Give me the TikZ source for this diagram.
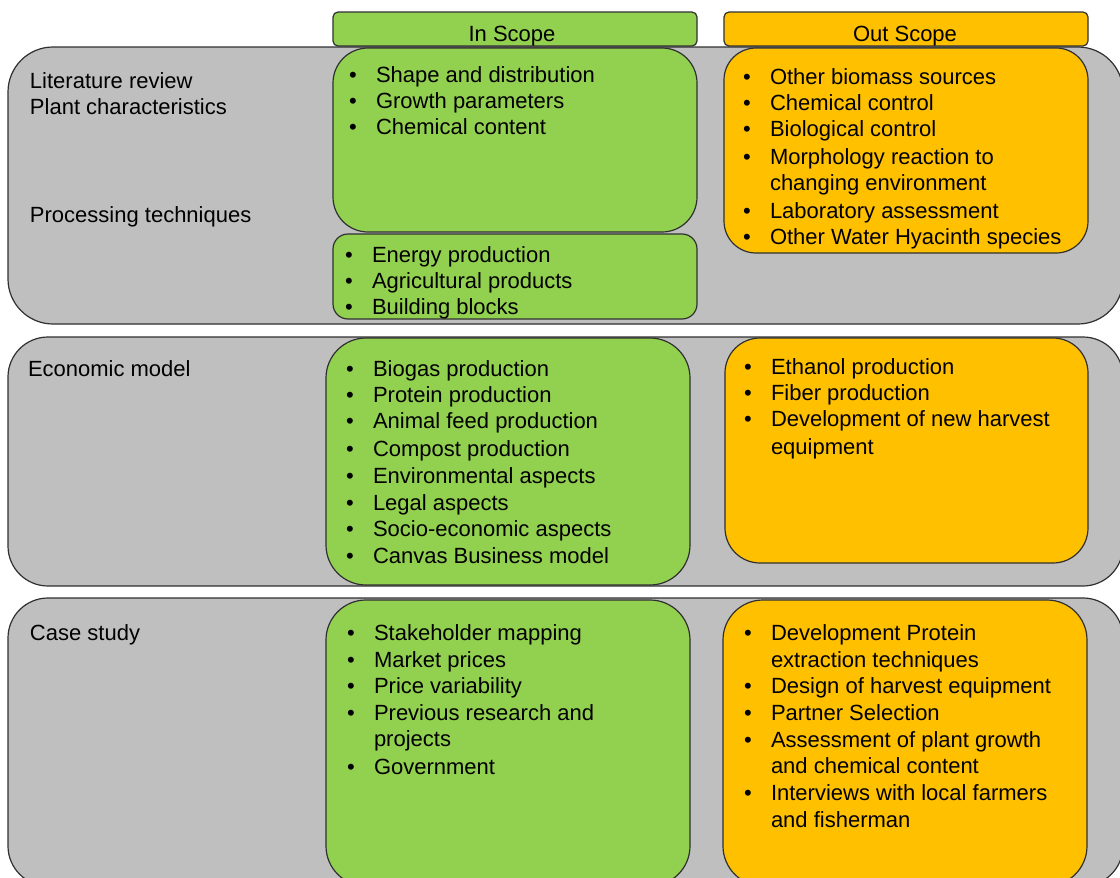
\documentclass[tikz,border=0pt]{standalone}
\usepackage{fontspec}
\setmainfont{Liberation Sans}
\definecolor{scopegreen}{HTML}{92D050}
\definecolor{scopeorange}{HTML}{FFC000}
\definecolor{panelgray}{HTML}{BFBFBF}
\definecolor{edgegray}{HTML}{303030}
\tikzset{
  boxbase/.style={draw=edgegray, line width=1.2pt, inner sep=0pt, outer sep=0pt},
  panelbox/.style={boxbase, fill=panelgray},
  greenbox/.style={boxbase, fill=scopegreen},
  orangebox/.style={boxbase, fill=scopeorange},
  itemtxt/.style={inner sep=0pt, outer sep=0pt, font=\fontsize{22}{26}\selectfont, text=black},
}
% name, style, x1, y1, x2, y2, radius
\newcommand\rbox[7]{%
  \pgfmathsetmacro\rbW{#5-#3}%
  \pgfmathsetmacro\rbH{#6-#4}%
  \pgfmathsetmacro\rbX{(#3+#5)/2}%
  \pgfmathsetmacro\rbY{(#4+#6)/2}%
  \node[#2, rounded corners=#7pt, minimum width=\rbW pt, minimum height=\rbH pt]
    (#1) at (\rbX,\rbY) {};}
% name, baseline y, text x, text
\newcommand\bitem[4]{%
  \pgfmathsetmacro\biX{#3-23}%
  \node[itemtxt, anchor=base west] (#1) at (#3,#2) {#4};
  \node[itemtxt, anchor=base] (#1-b) at (\biX,#2) {•};}
% name, baseline y, text x, text (continuation or plain label)
\newcommand\ptxt[4]{%
  \node[itemtxt, anchor=base west] (#1) at (#3,#2) {#4};}
\begin{document}
\begin{tikzpicture}[x=1pt, y=-1pt]
\useasboundingbox (0,0) rectangle (1120,878);
\clip (0,0) rectangle (1120,878);
\fill[white] (0,0) rectangle (1120,878);

% headers
\rbox{hin}{greenbox}{333}{12}{697}{46}{5}
\rbox{hout}{orangebox}{724}{12}{1088}{46}{5}
\node[itemtxt, anchor=base] (hin-t) at (512,41) {In Scope};
\node[itemtxt, anchor=base] (hout-t) at (905,41) {Out Scope};

% row 1
\rbox{p1}{panelbox}{8}{47}{1123}{324}{45}
\rbox{g1a}{greenbox}{333}{48}{697}{232}{35}
\rbox{g1b}{greenbox}{333}{234}{697}{319}{15}
\rbox{o1}{orangebox}{724}{48}{1088}{253}{32}

\ptxt{l1a}{88}{30}{Literature review}
\ptxt{l1b}{114}{30}{Plant characteristics}
\ptxt{l1c}{222}{30}{Processing techniques}

\bitem{g1i1}{82}{376}{Shape and distribution}
\bitem{g1i2}{108}{376}{Growth parameters}
\bitem{g1i3}{134}{376}{Chemical content}

\bitem{g1j1}{262}{372}{Energy production}
\bitem{g1j2}{288}{372}{Agricultural products}
\bitem{g1j3}{314}{372}{Building blocks}

\bitem{o1i1}{84}{770}{Other biomass sources}
\bitem{o1i2}{110}{770}{Chemical control}
\bitem{o1i3}{136}{770}{Biological control}
\bitem{o1i4}{164}{770}{Morphology reaction to}
\ptxt{o1i4c}{190}{770}{changing environment}
\bitem{o1i5}{218}{770}{Laboratory assessment}
\bitem{o1i6}{244}{770}{Other Water Hyacinth species}

% row 2
\rbox{p2}{panelbox}{8}{337}{1123}{586}{40}
\rbox{g2}{greenbox}{326}{338}{690}{585}{40}
\rbox{o2}{orangebox}{725}{338}{1088}{563}{35}

\ptxt{l2}{376}{28}{Economic model}

\bitem{g2i1}{376}{373}{Biogas production}
\bitem{g2i2}{402}{373}{Protein production}
\bitem{g2i3}{428}{373}{Animal feed production}
\bitem{g2i4}{456}{373}{Compost production}
\bitem{g2i5}{483}{373}{Environmental aspects}
\bitem{g2i6}{510}{373}{Legal aspects}
\bitem{g2i7}{536}{373}{Socio-economic aspects}
\bitem{g2i8}{563}{373}{Canvas Business model}

\bitem{o2i1}{374}{771}{Ethanol production}
\bitem{o2i2}{400}{771}{Fiber production}
\bitem{o2i3}{426}{771}{Development of new harvest}
\ptxt{o2i3c}{454}{771}{equipment}

% row 3
\rbox{p3}{panelbox}{8}{598}{1123}{886}{40}
\rbox{g3}{greenbox}{326}{600}{690}{886}{40}
\rbox{o3}{orangebox}{723}{600}{1087}{886}{40}

\ptxt{l3}{640}{30}{Case study}

\bitem{g3i1}{640}{374}{Stakeholder mapping}
\bitem{g3i2}{667}{374}{Market prices}
\bitem{g3i3}{693}{374}{Price variability}
\bitem{g3i4}{720}{374}{Previous research and}
\ptxt{g3i4c}{746}{374}{projects}
\bitem{g3i5}{774}{374}{Government}

\bitem{o3i1}{640}{771}{Development Protein}
\ptxt{o3i1c}{667}{771}{extraction techniques}
\bitem{o3i2}{693}{771}{Design of harvest equipment}
\bitem{o3i3}{720}{771}{Partner Selection}
\bitem{o3i4}{747}{771}{Assessment of plant growth}
\ptxt{o3i4c}{773}{771}{and chemical content}
\bitem{o3i5}{800}{771}{Interviews with local farmers}
\ptxt{o3i5c}{827}{771}{and fisherman}
\end{tikzpicture}
\end{document}
